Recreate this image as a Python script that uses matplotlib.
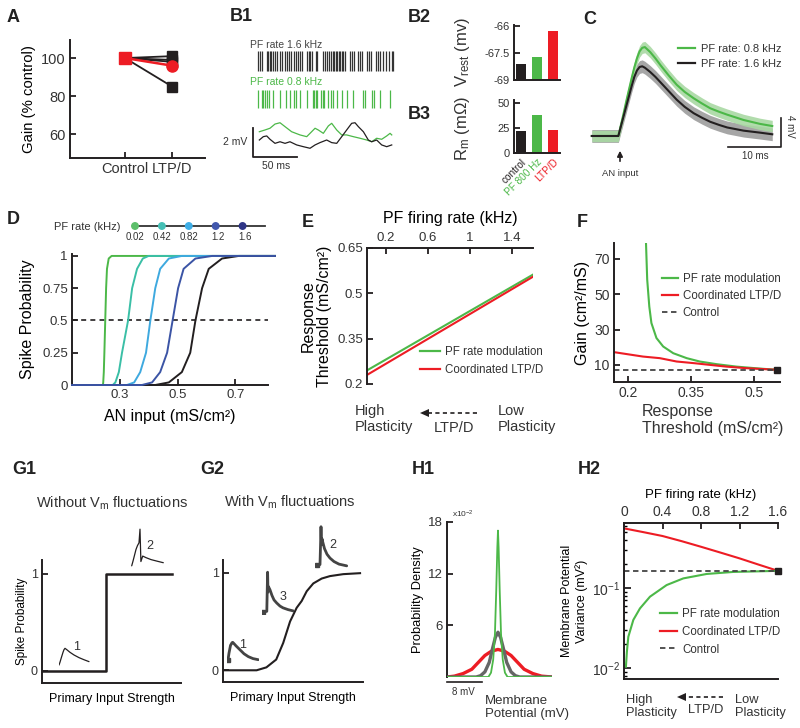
import matplotlib
matplotlib.use("Agg")
import matplotlib.pyplot as plt
import numpy as np
from matplotlib.lines import Line2D
from matplotlib.patches import Polygon, FancyArrowPatch

plt.rcParams["font.family"] = ["Liberation Sans", "DejaVu Sans"]
plt.rcParams["mathtext.fontset"] = "custom"
plt.rcParams["mathtext.rm"] = "Liberation Sans"
plt.rcParams["mathtext.it"] = "Liberation Sans:italic"
plt.rcParams["mathtext.bf"] = "Liberation Sans:bold"
plt.rcParams["axes.unicode_minus"] = False
plt.rcParams["text.color"] = "#333333"

GREEN = "#4cb848"
RED = "#ed1c24"
BLACK = "#231f20"
TXT = "#333333"

# ---------------- data ----------------
# A: gain relative to control
a_groups = ["Control", "LTP/D"]
a_control = 100
a_black_ltpd = [101, 99, 98, 85]
a_red_ltpd = 96

# B1: spike rasters (ms) and membrane traces (ms, mV)
b1_spikes_16 = [5.3, 8.0, 10.3, 15.6, 17.5, 19.3, 20.9, 22.8, 24.7, 26.9, 30.7, 33.0,
                36.8, 39.0, 40.9, 42.8, 46.6, 48.9, 50.8, 53.4, 55.3, 61.0, 63.3, 65.2,
                67.4, 71.2, 73.1, 80.0, 82.2, 84.1, 86.4, 88.3, 90.6, 92.5, 94.4, 95.9,
                97.4, 98.9, 100.8, 102.7, 105.0, 110.3, 112.2, 114.4, 119.7, 122.0,
                124.3, 129.2, 131.5, 133.8, 139.8, 142.5, 144.7, 148.1, 151.2, 154.2,
                157.6, 159.5]
b1_spikes_08 = [5.3, 10.6, 11.8, 13.7, 15.6, 17.8, 22.4, 30.7, 37.5, 42.1, 47.0, 48.9,
                53.4, 61.8, 68.6, 69.7, 71.2, 73.1, 76.9, 79.2, 81.1, 85.6, 88.3, 91.3,
                95.1, 100.8, 106.5, 114.0, 125.4, 127.3, 134.9, 137.5, 144.4, 155.7]
b1_t_green = [7.2, 13.6, 19.3, 25.0, 30.7, 36.4, 43.9, 53.4, 61.0, 66.6, 70.5, 74.2,
              79.9, 85.6, 89.4, 95.1, 100.8, 106.4, 114.0, 121.6, 129.2, 134.9, 140.5,
              146.2, 151.9, 155.7, 157.6]
b1_v_green = [1.72, 1.84, 1.96, 2.25, 2.34, 2.07, 1.72, 1.50, 1.38, 1.72, 1.96, 1.84,
              1.61, 2.12, 2.30, 1.84, 1.50, 1.50, 1.38, 1.27, 1.15, 1.03, 1.27, 1.20,
              1.43, 1.61, 1.50]
b1_t_black = [7.2, 11.7, 15.6, 19.3, 25.0, 30.7, 36.4, 42.0, 49.6, 57.2, 64.8, 70.5,
              76.1, 83.7, 89.4, 95.1, 100.8, 106.4, 112.1, 115.9, 119.7, 125.4, 131.0,
              134.9, 140.5, 146.2, 151.9, 157.6]
b1_v_black = [1.15, 1.38, 1.43, 1.20, 0.92, 1.03, 0.92, 1.03, 0.81, 0.69, 0.58, 0.81,
              0.97, 1.15, 0.97, 0.92, 1.38, 1.84, 2.30, 2.34, 2.07, 1.72, 1.15, 1.03,
              1.15, 0.81, 0.69, 0.81]

# B2 / B3
b_conditions = ["control", "PF 800 Hz", "LTP/D"]
b_colors = [BLACK, GREEN, RED]
b2_vrest = [-68.1, -67.72, -66.29]
b3_rm = [22, 38, 23]

# C: EPSPs (ms, mV)
c_t = [-5, 0, 0.5, 1, 1.5, 2, 2.5, 3, 3.5, 4, 4.5, 5, 6, 7, 8, 9.5, 11, 12.5, 14.2,
       15.8, 17.3, 19, 20.5, 23.6, 26.7, 29]
c_green = [0, 0, 1.6, 3.2, 4.9, 6.5, 8.1, 9.6, 10.9, 11.9, 12.4, 12.5, 11.8, 10.9, 9.9,
           8.5, 7.2, 6.2, 5.3, 4.55, 3.9, 3.4, 3.0, 2.25, 1.7, 1.4]
c_black = [0, 0, 1.4, 2.8, 4.2, 5.6, 7.0, 8.3, 9.2, 9.7, 9.8, 9.6, 9.0, 8.3, 7.5, 6.3,
           5.1, 4.1, 3.2, 2.55, 2.0, 1.55, 1.2, 0.75, 0.47, 0.24]
c_green_sem = 0.8
c_black_sem = 0.9

# D: spike probability curves
d_rates = ["0.02", "0.42", "0.82", "1.2", "1.6"]
d_prob = [0, 0.02, 0.1, 0.25, 0.5, 0.75, 0.9, 0.98, 1]
d_input = [
    [0.242, 0.243, 0.245, 0.247, 0.250, 0.253, 0.256, 0.262, 0.272],
    [0.276, 0.285, 0.297, 0.308, 0.329, 0.343, 0.360, 0.380, 0.400],
    [0.325, 0.350, 0.371, 0.391, 0.406, 0.423, 0.440, 0.470, 0.515],
    [0.377, 0.412, 0.440, 0.464, 0.483, 0.502, 0.521, 0.562, 0.620],
    [0.423, 0.470, 0.515, 0.544, 0.562, 0.585, 0.608, 0.654, 0.712],
]
d_colors = ["#4cb848", "#3abfa6", "#3ea9df", "#3b54a5", "#231f20"]
d_dot_colors = ["#5cbf6a", "#45bfb5", "#3faee6", "#4157ad", "#2e3586"]

# E: response threshold vs PF rate
e_rate = [0.02, 1.6]
e_green = [0.245, 0.562]
e_red = [0.23, 0.555]

# F: gain vs threshold
f_green_x = [0.243, 0.246, 0.251, 0.256, 0.268, 0.284, 0.308, 0.340, 0.371, 0.411,
             0.459, 0.514, 0.556]
f_green_y = [80, 58.3, 43, 33.7, 25.2, 20.4, 16.6, 13.8, 11.9, 10.4, 9.0, 7.9, 7.2]
f_red_x = [0.167, 0.236, 0.276, 0.316, 0.356, 0.395, 0.435, 0.483, 0.556]
f_red_y = [17.2, 14.7, 13.8, 11.9, 11.0, 10.0, 9.0, 8.1, 7.2]
f_control = 7.2

# G1 / G2 schematic curves
g1_x = [0.01, 0.46, 0.46, 0.935]
g1_y = [0, 0, 1, 1]
g2_x = [0.002, 0.24, 0.31, 0.38, 0.43, 0.479, 0.526, 0.562, 0.598, 0.645, 0.705,
        0.764, 0.859, 0.979]
g2_y = [0, 0, 0.03, 0.11, 0.28, 0.50, 0.64, 0.71, 0.81, 0.89, 0.94, 0.965, 0.985, 0.995]
g1_epsp_t = [0, 1, 2, 3, 4, 5, 6, 8, 11, 15, 20, 25, 30]
g1_epsp_v = [0.05, 0.2, 0.38, 0.55, 0.72, 0.86, 0.93, 0.85, 0.72, 0.58, 0.44, 0.33, 0.23]
g1_spike_t = [0.7, 2, 3.5, 5, 6.5, 8.0, 9.0, 9.5, 9.9, 11.7, 15, 20, 26, 32.3]
g1_spike_v = [0.03, 0.15, 0.3, 0.45, 0.55, 0.62, 0.97, 0.5, 0.14, 0.28, 0.24, 0.19, 0.15, 0.11]
g2_epsp_t = [1, 2, 3.5, 5, 5.7, 7, 9, 13, 17, 21.3, 26, 31.3]
g2_epsp_v = [0.14, 0.45, 0.8, 0.92, 0.94, 0.88, 0.78, 0.6, 0.42, 0.29, 0.2, 0.15]
g2_spike3_t = [1.3, 4.8, 5.2, 5.6, 6.0, 6.5, 8, 10, 12, 14.7, 18, 21, 26, 31.3]
g2_spike3_v = [0.05, 0.06, 0.5, 0.95, 0.5, 0.62, 0.55, 0.42, 0.32, 0.25, 0.18, 0.14, 0.1, 0.07]
g2_spike2_t = [1.7, 5.0, 5.5, 6.0, 6.5, 7.0, 7.7, 9.5, 12, 15, 19, 24, 31.7]
g2_spike2_v = [0.07, 0.08, 0.5, 0.96, 0.55, 0.68, 0.61, 0.45, 0.32, 0.23, 0.15, 0.09, 0.05]

# H1: membrane potential distributions (mV, x1e-2)
h1_green_x = [-11.7, -2.2, -1.6, -1.1, -0.7, -0.4, -0.15, 0, 0.15, 0.4, 0.7, 1.1, 1.6, 2.2, 12.4]
h1_green_y = [0, 0, 0.5, 2, 5, 10, 15, 17, 15, 10, 5, 2, 0.5, 0, 0]
h1_grey_x = [-11.7, -5, -4, -3, -2, -1.3, -0.6, 0, 0.6, 1.3, 2, 3, 4, 5, 12.4]
h1_grey_y = [0, 0, 0.15, 0.6, 1.7, 3.2, 4.6, 5.2, 4.6, 3.2, 1.7, 0.6, 0.15, 0, 0]
h1_red_x = [-11.7, -10, -8, -6, -4.5, -3, -1.5, 0, 1.5, 3, 4.5, 6, 8, 10, 12.4]
h1_red_y = [0, 0.1, 0.4, 0.9, 1.7, 2.5, 3.0, 3.2, 3.0, 2.5, 1.7, 0.9, 0.4, 0.1, 0]

# H2: membrane potential variance vs PF rate
h2_red_x = [0, 0.2, 0.4, 0.6, 0.8, 1.0, 1.2, 1.4, 1.6]
h2_red_y = [0.557, 0.50, 0.447, 0.385, 0.328, 0.278, 0.235, 0.196, 0.164]
h2_green_x = [0.02, 0.03, 0.045, 0.097, 0.166, 0.27, 0.443, 0.616, 0.859, 1.136, 1.6]
h2_green_y = [0.0104, 0.016, 0.0246, 0.040, 0.0557, 0.078, 0.109, 0.132, 0.150, 0.159, 0.164]
h2_control = 0.164

# ---------------- helpers ----------------
W, H = 800, 728
fig = plt.figure(figsize=(8, 7.28), dpi=100)


def box(x0, y0, x1, y1):
    """axes from pixel box, y measured from the top"""
    return fig.add_axes([x0 / W, 1 - y1 / H, (x1 - x0) / W, (y1 - y0) / H])


def ftext(x, y, s, **kw):
    return fig.text(x / W, 1 - y / H, s, **kw)


def style(ax, spines=("left", "bottom"), fs=9.5):
    for name, sp in ax.spines.items():
        sp.set_visible(name in spines)
        sp.set_linewidth(1.4)
        sp.set_color(BLACK)
    ax.tick_params(direction="in", length=4, width=1.3, labelsize=fs, pad=3,
                   color=BLACK, labelcolor=TXT)
    ax.patch.set_alpha(0)


def legend_at(ax, handles, labels, x, y, fs=8.3, hl=1.6, ls=0.5, tp=0.5):
    ax.legend(handles, labels, loc="upper left", bbox_to_anchor=(x / W, 1 - y / H),
              bbox_transform=fig.transFigure, frameon=False, fontsize=fs,
              handlelength=hl, handletextpad=tp, labelspacing=ls, borderpad=0,
              borderaxespad=0)


def dashed_arrow(x_tail, x_head, y):
    fig.add_artist(Line2D([x_tail / W, (x_head + 8) / W], [1 - y / H] * 2,
                          transform=fig.transFigure, color=BLACK, lw=1.2,
                          ls=(0, (2.5, 2))))
    fig.add_artist(Polygon([[x_head / W, 1 - y / H], [(x_head + 9) / W, 1 - (y - 4) / H],
                            [(x_head + 9) / W, 1 - (y + 4) / H]], closed=True,
                           transform=fig.transFigure, color=BLACK, lw=0))


def trace_inset(bx, t, v, lw=0.9, color=BLACK, dot=False):
    ax = box(*bx)
    ax.plot(t, v, color=color, lw=lw, solid_capstyle="round")
    if dot:
        ax.plot(t[0], v[0], "s", color=color, ms=2.5)
    ax.set_ylim(0, 1)
    ax.set_xlim(0, bx[2] - bx[0])
    ax.axis("off")
    return ax


line_green = Line2D([], [], color=GREEN, lw=1.6)
line_red = Line2D([], [], color=RED, lw=1.6)
line_ctrl = Line2D([], [], color="#444444", lw=1.3, ls=(0, (3, 2)))

# ---------------- panel labels ----------------
for lab, x, y in [("A", 7, 9), ("B1", 230, 8), ("B2", 408, 9), ("B3", 408, 106),
                  ("C", 583, 11), ("D", 7, 211), ("E", 302, 214), ("F", 577, 214),
                  ("G1", 12, 461), ("G2", 200, 461), ("H1", 412, 461), ("H2", 578, 461)]:
    ftext(x, y, lab, fontsize=13, fontweight="bold", va="top", ha="left", color="#222222")

# ---------------- A ----------------
ax = box(70, 40, 205, 158)
style(ax, fs=10.5)
xa = np.arange(len(a_groups))
for v in a_black_ltpd:
    ax.plot(xa, [a_control, v], color=BLACK, lw=1.3, zorder=2)
    ax.plot(xa[1], v, "s", color=BLACK, ms=7, zorder=3)
ax.plot(xa, [a_control, a_red_ltpd], color=RED, lw=1.8, zorder=4)
ax.plot(xa[1], a_red_ltpd, "o", color=RED, ms=8, zorder=5)
ax.plot(xa[0], a_control, "s", color=RED, ms=8, zorder=5)
ax.set_xlim(-1.17, 1.7)
ax.set_ylim(47.4, 109.5)
ax.set_xticks(xa, a_groups)
ax.set_yticks([60, 80, 100])
ax.set_ylabel("Gain (% control)", fontsize=10.7, labelpad=4)

# ---------------- B1 ----------------
ax = box(253, 48, 400, 112)
ax.vlines(b1_spikes_16, 1.29, 1.9, color="#333333", lw=0.9)
ax.vlines(b1_spikes_08, 0.13, 0.68, color=GREEN, lw=0.9)
ax.set_xlim(0, 167)
ax.set_ylim(0, 2)
ax.axis("off")
ftext(250, 45, "PF rate 1.6 kHz", fontsize=7.5, va="center", color="#444444")
ftext(250, 82, "PF rate 0.8 kHz", fontsize=7.5, va="center", color=GREEN)

ax = box(253, 112, 400, 158)
ax.plot(b1_t_green, b1_v_green, color=GREEN, lw=0.9)
ax.plot(b1_t_black, b1_v_black, color=BLACK, lw=0.9)
ax.plot([0, 0, 50], [2, 0, 0], color=BLACK, lw=1.3, clip_on=False)
ax.set_xlim(0, 167)
ax.set_ylim(-0.09, 3.08)
ax.axis("off")
ftext(235, 142, "2 mV", fontsize=7.5, ha="center", va="center")
ftext(276, 166, "50 ms", fontsize=7.5, ha="center", va="center")

# ---------------- B2 / B3 ----------------
xb = np.arange(len(b_conditions))
ax = box(514, 25, 560, 80)
style(ax, fs=8)
b2_floor = -69
ax.bar(xb, np.array(b2_vrest) - b2_floor, bottom=b2_floor, width=0.62, color=b_colors)
ax.set_ylim(-69, -65.93)
ax.set_xlim(-0.44, 2.44)
ax.set_yticks([-69, -67.5, -66], ["-69", "-67.5", "-66"])
ax.set_xticks([])
ftext(462, 52, "V$_\\mathrm{rest}$ (mv)", fontsize=12, rotation=90, ha="center", va="center")

ax = box(514, 100, 560, 153)
style(ax, fs=8)
ax.bar(xb, b3_rm, width=0.62, color=b_colors)
ax.set_ylim(0, 53)
ax.set_xlim(-0.44, 2.44)
ax.set_yticks([0, 25, 50])
ax.set_xticks(xb, b_conditions, rotation=45, ha="right", rotation_mode="anchor", fontsize=7.2)
for t, c in zip(ax.get_xticklabels(), b_colors):
    t.set_color(c)
ax.tick_params(axis="x", length=0, pad=3)
ftext(462, 128, "R$_\\mathrm{m}$ (mΩ)", fontsize=12, rotation=90, ha="center", va="center")

# ---------------- C ----------------
ax = box(590, 35, 785, 150)
cg = np.array(c_green)
cb = np.array(c_black)
ax.fill_between(c_t, cb - c_black_sem, cb + c_black_sem, color="#a6a6a6", lw=0)
ax.fill_between(c_t, cg - c_green_sem, cg + c_green_sem, color="#a9d9a3", lw=0, alpha=0.9)
ax.plot(c_t, cg, color=GREEN, lw=1.5)
ax.plot(c_t, cb, color=BLACK, lw=1.5)
ax.plot([20.6, 30.6, 30.6], [-1.5, -1.5, 2.5], color=BLACK, lw=1.2, clip_on=False)
ax.set_xlim(-5.34, 31.4)
ax.set_ylim(-1.97, 14.2)
ax.axis("off")
legend_at(ax, [line_green, Line2D([], [], color=BLACK, lw=1.6)],
          ["PF rate: 0.8 kHz", "PF rate: 1.6 kHz"], 678, 44, fs=8, hl=1.5, ls=0.45, tp=0.6)
ftext(790, 126, "4 mV", fontsize=7, rotation=-90, ha="center", va="center")
ftext(755, 156, "10 ms", fontsize=7, ha="center", va="center")
fig.add_artist(FancyArrowPatch((620 / W, 1 - 164 / H), (620 / W, 1 - 148 / H),
                               transform=fig.transFigure, arrowstyle="-|>",
                               mutation_scale=8, lw=1.2, color=BLACK))
ftext(620, 174, "AN input", fontsize=6.8, ha="center", va="center")

# ---------------- D ----------------
ax = box(72, 254, 268, 385)
style(ax, fs=9.5)
order = [0, 1, 2, 4, 3]
for i in order:
    xs = [0.135] + d_input[i] + [0.837]
    ys = [0] + d_prob + [1]
    ax.plot(xs, ys, color=d_colors[i], lw=1.4, clip_on=False, zorder=3 + (i == 3))
ax.axhline(0.5, color=BLACK, lw=1.2, ls=(0, (3, 2.5)), zorder=2)
ax.set_xlim(0.135, 0.813)
ax.set_ylim(0, 1.015)
ax.set_xticks([0.3, 0.5, 0.7])
ax.set_yticks([0, 0.25, 0.5, 0.75, 1], ["0", "0.25", "0.5", "0.75", "1"])
ax.set_xlabel("AN input (mS/cm²)", fontsize=11.5, labelpad=6)
ax.set_ylabel("Spike Probability", fontsize=11.5, labelpad=5)

ax = box(128, 220, 270, 232)
xd = np.arange(len(d_rates))
ax.plot([-0.07, 4.83], [0, 0], color="#333333", lw=1.3)
ax.scatter(xd, np.zeros(len(xd)), s=22, c=d_dot_colors, zorder=3)
for xi, lab in zip(xd, d_rates):
    ax.text(xi + 0.08 * (xi > 2), -1.0, lab, fontsize=7, ha="center", va="top", color=TXT)
ax.set_xlim(-0.26, 5.02)
ax.set_ylim(-1, 1)
ax.axis("off")
ftext(121, 227, "PF rate (kHz)", fontsize=8, ha="right", va="center")

# ---------------- E ----------------
ax = box(367, 248, 533, 384)
style(ax, spines=("left", "top"), fs=9.5)
ax.plot(e_rate, e_green, color=GREEN, lw=1.5)
ax.plot(e_rate, e_red, color=RED, lw=1.5)
ax.set_xlim(0.02, 1.6)
ax.set_ylim(0.2, 0.65)
ax.xaxis.tick_top()
ax.xaxis.set_label_position("top")
ax.set_xticks([0.2, 0.6, 1, 1.4], ["0.2", "0.6", "1", "1.4"])
ax.set_yticks([0.2, 0.35, 0.5, 0.65], ["0.2", "0.35", "0.5", "0.65"])
ax.set_xlabel("PF firing rate (kHz)", fontsize=11.5, labelpad=6)
ax.set_ylabel("Response\nThreshold (mS/cm²)", fontsize=11.5, labelpad=4, linespacing=1.05)
legend_at(ax, [line_green, line_red], ["PF rate modulation", "Coordinated LTP/D"],
          420, 346, hl=1.75, tp=0.45, ls=0.5)
ftext(355, 404, "High\nPlasticity", fontsize=10.5, va="top", linespacing=1.2)
ftext(498, 404, "Low\nPlasticity", fontsize=10.5, va="top", linespacing=1.2)
ftext(454, 428, "LTP/D", fontsize=10.5, ha="center", va="center")
dashed_arrow(477, 420, 413)

# ---------------- F ----------------
ax = box(614, 243, 780, 382)
style(ax, fs=10)
ax.plot(f_green_x, f_green_y, color=GREEN, lw=1.5)
ax.plot(f_red_x, f_red_y, color=RED, lw=1.5)
ax.plot([0.167, 0.556], [f_control] * 2, color="#444444", lw=1.3, ls=(0, (3, 2)))
ax.plot(0.556, f_control, "s", color=BLACK, ms=5, clip_on=False, zorder=5)
ax.set_xlim(0.167, 0.562)
ax.set_ylim(0.3, 79)
ax.set_xticks([0.2, 0.35, 0.5], ["0.2", "0.35", "0.5"])
ax.set_yticks([10, 30, 50, 70])
ax.set_ylabel("Gain (cm²/mS)", fontsize=11.5, labelpad=3)
legend_at(ax, [line_green, line_red, line_ctrl], ["PF rate modulation", "Coordinated LTP/D",
          "Control"], 662, 273, hl=1.4, tp=0.4, ls=0.45)
ftext(642, 404, "Response\nThreshold (mS/cm²)", fontsize=11.5, va="top", linespacing=1.2)

# ---------------- G1 ----------------
ax = box(42, 560, 181, 683)
style(ax, fs=9)
ax.plot(g1_x, g1_y, color=BLACK, lw=1.8)
ax.set_xlim(0, 1)
ax.set_ylim(-0.124, 1.144)
ax.set_yticks([0, 1])
ax.set_xticks([])
ax.set_ylabel("Spike Probability", fontsize=8.5, labelpad=2)
ax.set_xlabel("Primary Input Strength", fontsize=9, labelpad=7)
ftext(112, 503, "Without V$_\\mathrm{m}$ fluctuations", fontsize=10.5, ha="center", va="center")
trace_inset((59, 647, 90, 666), g1_epsp_t, g1_epsp_v)
ftext(77, 647, "1", fontsize=9, ha="center", va="center")
trace_inset((131, 528, 164, 567), g1_spike_t, g1_spike_v)
ftext(150, 546, "2", fontsize=9, ha="center", va="center")

# ---------------- G2 ----------------
ax = box(223, 560, 363, 682)
style(ax, fs=9)
ax.plot(g2_x, g2_y, color=BLACK, lw=1.5)
ax.set_xlim(0, 1)
ax.set_ylim(-0.12, 1.13)
ax.set_yticks([0, 1])
ax.set_xticks([])
ax.set_xlabel("Primary Input Strength", fontsize=9, labelpad=7)
ftext(290, 502, "With V$_\\mathrm{m}$ fluctuations", fontsize=10.5, ha="center", va="center")
trace_inset((227, 641, 259, 663), g2_epsp_t, g2_epsp_v, lw=2, color="#444444", dot=True)
ftext(243, 645, "1", fontsize=9, ha="center", va="center")
trace_inset((262, 570, 294, 614), g2_spike3_t, g2_spike3_v, lw=2, color="#444444", dot=True)
ftext(283, 597, "3", fontsize=9, ha="center", va="center")
trace_inset((315, 525, 348, 568), g2_spike2_t, g2_spike2_v, lw=2, color="#444444", dot=True)
ftext(333, 545, "2", fontsize=9, ha="center", va="center")

# ---------------- H1 ----------------
ax = box(447, 522, 552, 677)
style(ax, spines=("left",), fs=9.5)
ax.plot(h1_red_x, h1_red_y, color=RED, lw=2.4, zorder=2)
ax.plot(h1_grey_x, h1_grey_y, color="#666666", lw=2.4, zorder=3)
ax.plot(h1_green_x, h1_green_y, color=GREEN, lw=1.3, zorder=4)
ax.plot([-11.7, -3.7], [-0.6, -0.6], color=BLACK, lw=1.2, clip_on=False)
ax.set_xlim(-11.7, 12.4)
ax.set_ylim(0, 18)
ax.set_yticks([6, 12, 18])
ax.set_xticks([])
ax.set_ylabel("Probability Density", fontsize=9.3, labelpad=3)
ftext(452, 514, "x10$^{-2}$", fontsize=6, va="center")
ftext(463, 692, "8 mV", fontsize=7, ha="center", va="center")
ftext(485, 695, "Membrane\nPotential (mV)", fontsize=9.5, va="top", linespacing=1.15)

# ---------------- H2 ----------------
ax = box(624, 523, 778, 679)
style(ax, spines=("left", "top", "bottom"), fs=10)
ax.set_yscale("log")
ax.plot(h2_red_x, h2_red_y, color=RED, lw=1.5)
ax.plot(h2_green_x, h2_green_y, color=GREEN, lw=1.5)
ax.plot([0, 1.6], [h2_control] * 2, color="#444444", lw=1.3, ls=(0, (3, 2)))
ax.plot(1.6, h2_control, "s", color=BLACK, ms=5, clip_on=False, zorder=5)
ax.set_xlim(0, 1.6)
ax.set_ylim(0.0073, 0.65)
ax.xaxis.tick_top()
ax.xaxis.set_label_position("top")
ax.set_xticks([0, 0.4, 0.8, 1.2, 1.6], ["0", "0.4", "0.8", "1.2", "1.6"])
ax.set_yticks([0.01, 0.1], ["10$^{-2}$", "10$^{-1}$"])
ax.tick_params(axis="y", which="minor", direction="in", length=2.5, width=1.0)
ax.tick_params(axis="y", which="major", length=5)
ax.set_xlabel("PF firing rate (kHz)", fontsize=9.5, labelpad=5)
ax.set_ylabel("Membrane Potential\nVariance (mV²)", fontsize=9, labelpad=3, linespacing=1.2)
legend_at(ax, [line_green, line_red, line_ctrl], ["PF rate modulation", "Coordinated LTP/D",
          "Control"], 660, 608, hl=1.5, tp=0.45, ls=0.5)
ftext(626, 694, "High\nPlasticity", fontsize=9.3, va="top", linespacing=1.1)
ftext(735, 694, "Low\nPlasticity", fontsize=9.3, va="top", linespacing=1.1)
ftext(706, 710, "LTP/D", fontsize=9.3, ha="center", va="center")
dashed_arrow(723, 677, 697)

fig.savefig("out.png", dpi=100)
